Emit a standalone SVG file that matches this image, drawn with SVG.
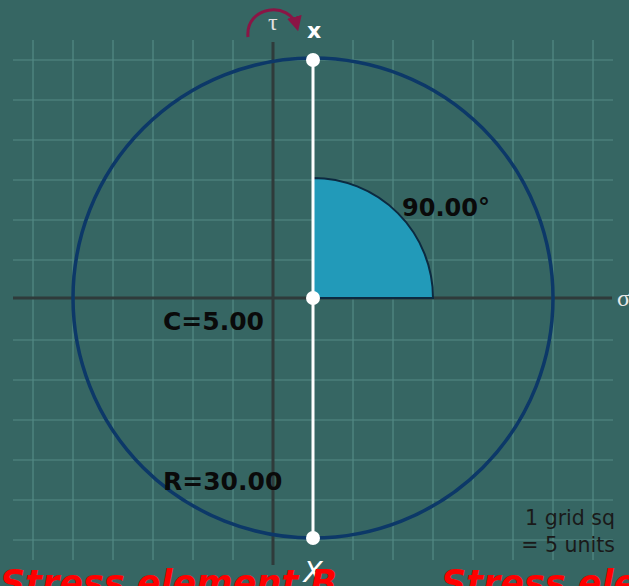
<svg xmlns="http://www.w3.org/2000/svg" width="629" height="586" viewBox="0 0 629 586">
<defs>
<style>
.grid{stroke:#548a85;stroke-width:1.2;fill:none}
.axis{stroke:#2f3b3b;stroke-width:3;fill:none}
.lbl{font-family:"DejaVu Sans",Verdana,sans-serif;font-weight:bold;fill:#0a0a0a;font-size:24px}
.lbl2{font-family:"DejaVu Sans",Verdana,sans-serif;font-weight:bold;fill:#0a0a0a;font-size:25px}
.note{font-family:"DejaVu Sans",Verdana,sans-serif;fill:#1a1a1a;font-size:20.5px}
.red{font-family:"DejaVu Sans",Verdana,sans-serif;font-weight:bold;font-style:italic;fill:#ff0000;font-size:35px}
.dot{fill:#ffffff}
</style>
<marker id="ah" viewBox="0 0 10 10" refX="7" refY="5" markerWidth="5" markerHeight="5" orient="auto">
<path d="M0,0 L10,5 L0,10 Z" fill="#8a1545"/>
</marker>
</defs>
<rect width="629" height="586" fill="#366663"/>
<g id="grid">
<path class="grid" d="M33,40V560M73,40V560M113,40V560M153,40V560M193,40V560M233,40V560M353,40V560M393,40V560M433,40V560M473,40V560M513,40V560M553,40V560M593,40V560"/>
<path class="grid" d="M13,60H613M13,100H613M13,140H613M13,180H613M13,220H613M13,260H613M13,340H613M13,380H613M13,420H613M13,460H613M13,500H613M13,540H613"/>
</g>
<g id="axes">
<line class="axis" x1="13" y1="298" x2="612" y2="298"/>
<line class="axis" x1="273" y1="42" x2="273" y2="565"/>
<text x="617" y="306" font-family="'Liberation Serif',serif" font-size="24" fill="#e8e8e8">σ</text>
<text x="268" y="30" font-family="'Liberation Serif',serif" font-size="24" fill="#e0e0e0">τ</text>
</g>
<g id="angle">
<path d="M313,298 V178 A120,120 0 0 1 433,298 Z" fill="#229ab9" stroke="#0c2a40" stroke-width="2"/>
<text class="lbl" x="402" y="216">90.00°</text>
</g>
<g id="circle">
<circle cx="313" cy="298" r="240" fill="none" stroke="#0c3868" stroke-width="3.5"/>
</g>
<g id="connectors">
<line x1="313" y1="60" x2="313" y2="538" stroke="#ffffff" stroke-width="3"/>
<path d="M248,37 C245,6 290,0 297,27" fill="none" stroke="#8a1545" stroke-width="3" marker-end="url(#ah)"/>
</g>
<g id="pointX">
<circle class="dot" cx="313" cy="60" r="7"/>
<text x="314" y="38" text-anchor="middle" font-family="'DejaVu Sans',Verdana,sans-serif" font-weight="bold" font-size="22" fill="#ffffff">x</text>
</g>
<g id="center">
<circle class="dot" cx="313" cy="298" r="7"/>
<text class="lbl2" x="163" y="330">C=5.00</text>
</g>
<g id="pointY">
<circle class="dot" cx="313" cy="538" r="7"/>
<text x="313" y="582" text-anchor="middle" font-family="'DejaVu Sans',Verdana,sans-serif" font-style="italic" font-size="28" fill="#ffffff">X</text>
</g>
<g id="radius">
<text class="lbl2" x="163" y="490">R=30.00</text>
</g>
<g id="scale">
<text class="note" x="615" y="525" text-anchor="end">1 grid sq</text>
<text class="note" x="615" y="552" text-anchor="end">= 5 units</text>
</g>
<g id="captions">
<text class="red" x="0" y="595">Stress element B</text>
<text class="red" x="441" y="595">Stress element A</text>
</g>
</svg>
